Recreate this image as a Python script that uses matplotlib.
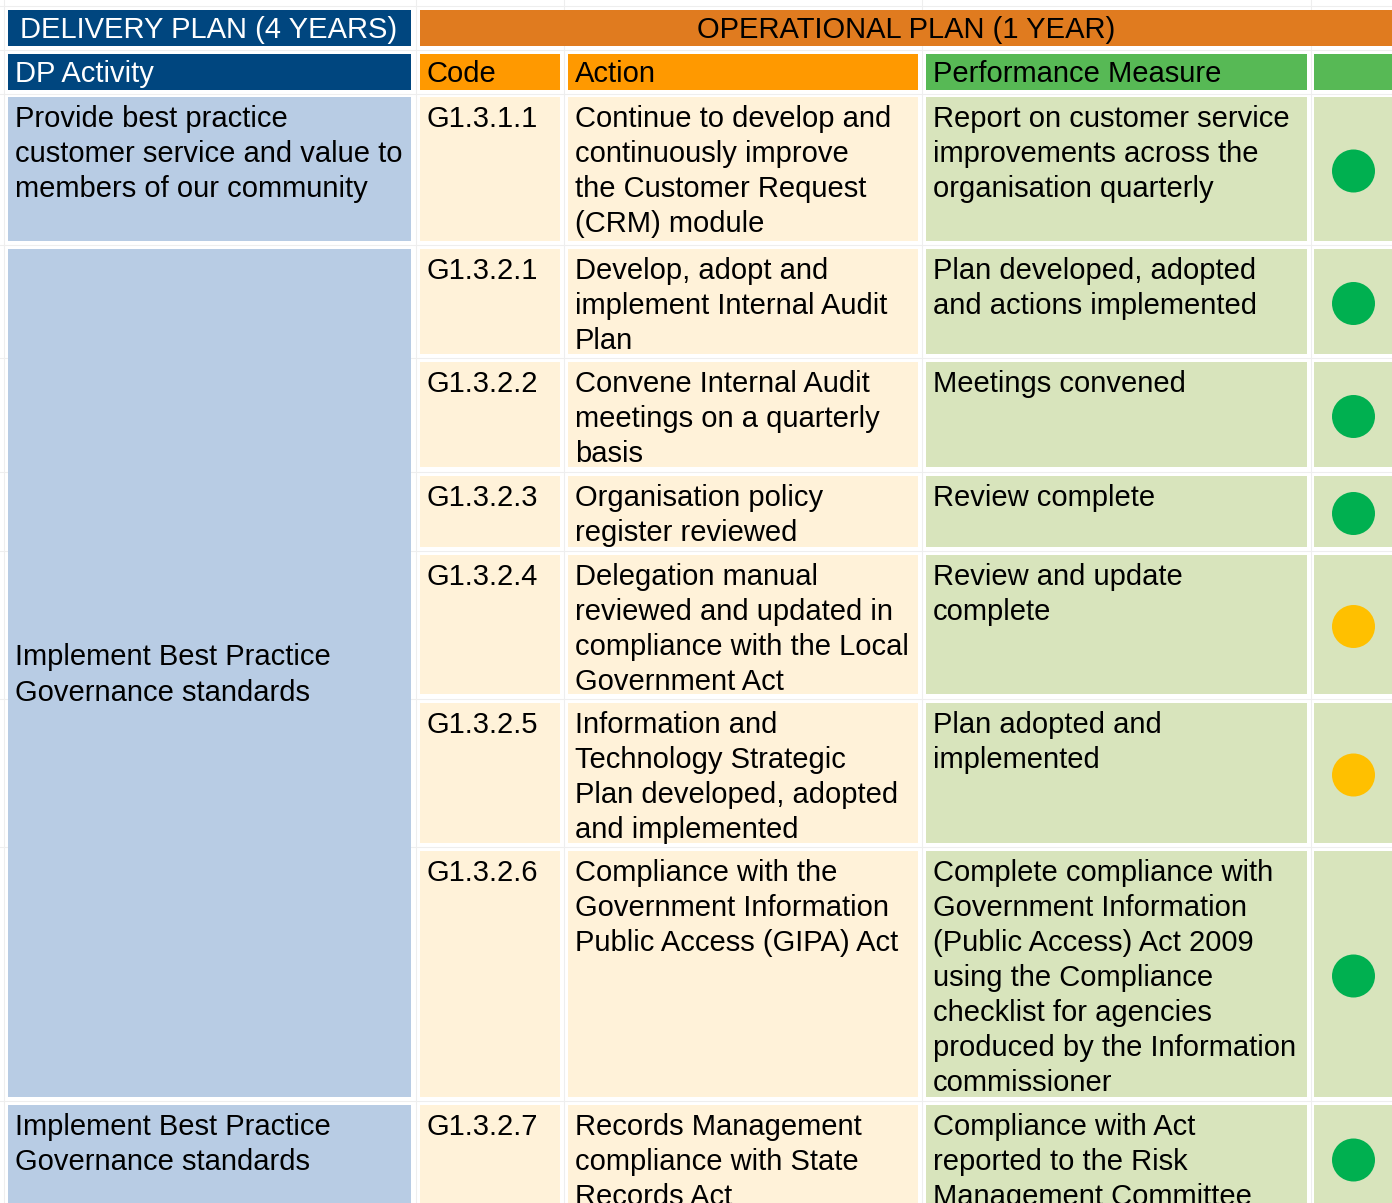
import matplotlib.pyplot as plt
from matplotlib.patches import Rectangle, Circle

plt.rcParams['font.family'] = ['Liberation Sans', 'DejaVu Sans']

# table content
top_headers = ['DELIVERY PLAN (4 YEARS)', 'OPERATIONAL PLAN (1 YEAR)']
col_headers = ['DP Activity', 'Code', 'Action', 'Performance Measure', '']
activities = ['Provide best practice\ncustomer service and value to\nmembers of our community',
              'Implement Best Practice\nGovernance standards',
              'Implement Best Practice\nGovernance standards']
activity_rows = [[0], [1, 2, 3, 4, 5, 6], [7]]
codes = ['G1.3.1.1', 'G1.3.2.1', 'G1.3.2.2', 'G1.3.2.3', 'G1.3.2.4',
         'G1.3.2.5', 'G1.3.2.6', 'G1.3.2.7']
actions = ['Continue to develop and\ncontinuously improve\nthe Customer Request\n(CRM) module',
           'Develop, adopt and\nimplement Internal Audit\nPlan',
           'Convene Internal Audit\nmeetings on a quarterly\nbasis',
           'Organisation policy\nregister reviewed',
           'Delegation manual\nreviewed and updated in\ncompliance with the Local\nGovernment Act',
           'Information and\nTechnology Strategic\nPlan developed, adopted\nand implemented',
           'Compliance with the\nGovernment Information\nPublic Access (GIPA) Act',
           'Records Management\ncompliance with State\nRecords Act']
measures = ['Report on customer service\nimprovements across the\norganisation quarterly',
            'Plan developed, adopted\nand actions implemented',
            'Meetings convened',
            'Review complete',
            'Review and update\ncomplete',
            'Plan adopted and\nimplemented',
            'Complete compliance with\nGovernment Information\n(Public Access) Act 2009\nusing the Compliance\nchecklist for agencies\nproduced by the Information\ncommissioner',
            'Compliance with Act\nreported to the Risk\nManagement Committee']
status = ['green', 'green', 'green', 'green', 'amber', 'amber', 'green', 'green']

# layout (pixels)
W, H = 1392, 1203
col_x = [(8, 411), (420, 560), (568, 918), (926, 1307), (1314, 1400)]
row_y = [(97, 241), (249, 354), (362, 467), (476, 547), (555, 694),
         (703, 843), (851, 1097), (1105, 1211)]
status_colors = {'green': '#00B050', 'amber': '#FFC000'}
fill = ['#B8CCE4', '#FFF2D9', '#FFF2D9', '#D8E4BC', '#D8E4BC']
head_fill = ['#00467F', '#FF9900', '#FF9900', '#57B955', '#57B955']
fs = 21
ls = 1.32
pad = 8

fig = plt.figure(figsize=(W / 100, H / 100), dpi=100)
ax = fig.add_axes([0, 0, 1, 1])
ax.set_xlim(0, W)
ax.set_ylim(H, 0)
ax.axis('off')

# faint grid lines in the gaps
for x in [4, 415.5, 564, 922, 1310.5]:
    ax.plot([x, x], [0, H], color='#EEEEEE', lw=0.8, zorder=0)
for y in [6, 50, 93.5, 245, 358, 471.5, 551, 698.5, 847, 1101]:
    ax.plot([0, W], [y, y], color='#EEEEEE', lw=0.8, zorder=0)

def box(x0, x1, y0, y1, c):
    ax.add_patch(Rectangle((x0, y0), x1 - x0, y1 - y0, color=c, lw=0, zorder=1))

# top header row
box(8, 411, 10, 46, '#00467F')
box(420, 1400, 10, 46, '#E07B1F')
ax.text(20, 30.5, top_headers[0], color='white', fontsize=fs, va='center', ha='left', zorder=3)
ax.text(906, 30.5, top_headers[1], color='black', fontsize=fs, va='center', ha='center', zorder=3)

# column header row
for i, (x0, x1) in enumerate(col_x):
    box(x0, x1, 54, 90, head_fill[i])
    ax.text(x0 + 7, 74, col_headers[i], color='white' if i == 0 else 'black',
            fontsize=fs, va='center', ha='left', zorder=3)

# activity cells (merged)
for text, rows in zip(activities, activity_rows):
    y0 = row_y[rows[0]][0]
    y1 = row_y[rows[-1]][1]
    box(col_x[0][0], col_x[0][1], y0, y1, fill[0])
    if len(rows) == 1:
        ax.text(col_x[0][0] + 7, y0 + pad, text, fontsize=fs, va='top', ha='left',
                linespacing=ls, zorder=3)
    else:
        ax.text(col_x[0][0] + 7, (y0 + y1) / 2 + 2, text, fontsize=fs, va='center',
                ha='left', linespacing=ls, zorder=3)

# detail rows
for r, (y0, y1) in enumerate(row_y):
    for c, vals in zip([1, 2, 3], [codes, actions, measures]):
        x0, x1 = col_x[c]
        box(x0, x1, y0, y1, fill[c])
        ax.text(x0 + 7, y0 + pad, vals[r], fontsize=fs, va='top', ha='left',
                linespacing=ls, zorder=3)
    x0, x1 = col_x[4]
    box(x0, x1, y0, y1, fill[4])
    ax.add_patch(Circle((1353.5, (y0 + y1) / 2 + 2), 21.5,
                        color=status_colors[status[r]], lw=0, zorder=3))

fig.savefig('out.png', dpi=100)
